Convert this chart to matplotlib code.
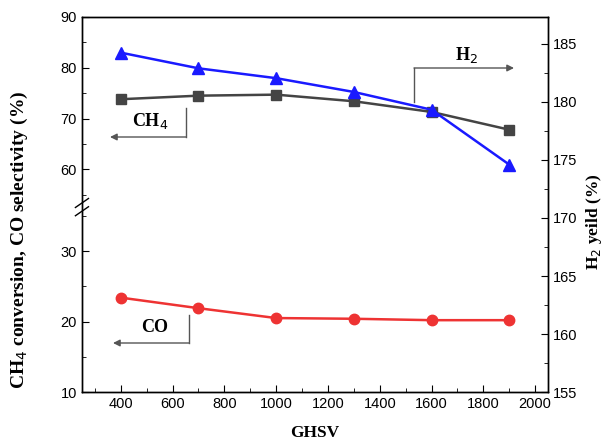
import matplotlib.pyplot as plt
import numpy as np
from matplotlib.patches import FancyArrowPatch
from matplotlib.ticker import FixedLocator, MultipleLocator

ghsv = [400, 700, 1000, 1300, 1600, 1900]
ch4_conv = [73.8, 74.5, 74.7, 73.4, 71.3, 67.8]
co_sel = [23.4, 21.9, 20.5, 20.4, 20.2, 20.2]
h2_yield = [184.25, 182.9, 182.05, 180.86, 179.33, 174.6]

# broken left axis: 10-36 lower part, 52.5-90 upper part
seg_v = [10, 36, 52.5, 90]
seg_p = [0, 184.6, 186, 378]

def fwd(v):
    return np.interp(v, seg_v, seg_p)

def inv(p):
    return np.interp(p, seg_p, seg_v)

plt.rcParams['font.family'] = ['Liberation Sans', 'DejaVu Sans']
fig = plt.figure(figsize=(6.07, 4.45), dpi=100)
ax = fig.add_axes([0.135, 0.119, 0.768, 0.843])
ax.set_yscale('function', functions=(fwd, inv))
ax.set_ylim(10, 90)
ax.set_xlim(250, 2050)
ax.yaxis.set_major_locator(FixedLocator([10, 20, 30, 60, 70, 80, 90]))
ax.yaxis.set_minor_locator(FixedLocator([15, 25, 35, 55, 65, 75, 85]))
ax.xaxis.set_major_locator(MultipleLocator(200))
ax.xaxis.set_minor_locator(MultipleLocator(100))
ax.tick_params(which='both', direction='in', top=False, right=False, labelsize=10.5)
ax.tick_params(which='major', length=5)
ax.tick_params(which='minor', length=3)

ax.plot(ghsv, ch4_conv, color='#444444', marker='s', markersize=6.5, lw=1.8)
ax.plot(ghsv, co_sel, color='#ee3333', marker='o', markersize=7.5, lw=1.8)

ax2 = ax.twinx()
ax2.set_ylim(155, 187.33)
ax2.yaxis.set_major_locator(MultipleLocator(5))
ax2.yaxis.set_minor_locator(MultipleLocator(2.5))
ax2.tick_params(which='both', direction='in', labelsize=10.5)
ax2.tick_params(which='major', length=5)
ax2.tick_params(which='minor', length=3)
ax2.plot(ghsv, h2_yield, color='#1a1aff', marker='^', markersize=9, lw=1.8)

for sp in list(ax.spines.values()) + list(ax2.spines.values()):
    sp.set_linewidth(1.0)

# break marks on the left spine
yb = 1 - (203 - 17) / 375.0
for dy in (0.0, -0.022):
    ax.plot([-0.014, 0.014], [yb + dy - 0.012, yb + dy + 0.012], transform=ax.transAxes,
            color='black', lw=1.0, clip_on=False)

serif = ['Liberation Serif', 'DejaVu Serif']
ax.set_ylabel('CH$_4$ conversion, CO selectivity (%)', family=serif, fontweight='bold',
              fontsize=14)
ax.yaxis.set_label_coords(-0.112, 0.405)
ax2.set_ylabel('H$_2$ yeild (%)', family=serif, fontweight='bold', fontsize=12.5)
ax2.yaxis.set_label_coords(1.078, 0.453)
ax.set_xlabel('GHSV', family=serif, fontweight='bold', fontsize=12.5, labelpad=10)

# annotation arrows (figure pixel coords converted)
def fp(x, y):
    return (x / 607.0, 1 - y / 445.0)

arr = dict(arrowstyle='-|>', color='#555555', lw=1.0, mutation_scale=10)

def bracket(x0, y0, y1, x1):
    fig.add_artist(plt.Line2D(*zip(fp(x0, y0), fp(x0, y1)), color='#555555', lw=1.0))
    fig.add_artist(FancyArrowPatch(fp(x0, y1), fp(x1, y1), transform=fig.transFigure,
                                   shrinkA=0, shrinkB=0, **arr))

bracket(186, 108, 137, 110)
fig.text(*fp(150, 121), 'CH$_4$', family=serif, fontweight='bold', fontsize=13,
         ha='center', va='center')

bracket(189, 315, 343, 113)
fig.text(*fp(155, 327), 'CO', family=serif, fontweight='bold', fontsize=13,
         ha='center', va='center')

bracket(414, 102, 68, 514)
fig.text(*fp(466, 55), 'H$_2$', family=serif, fontweight='bold', fontsize=13,
         ha='center', va='center')

fig.savefig('out.png', dpi=100)
